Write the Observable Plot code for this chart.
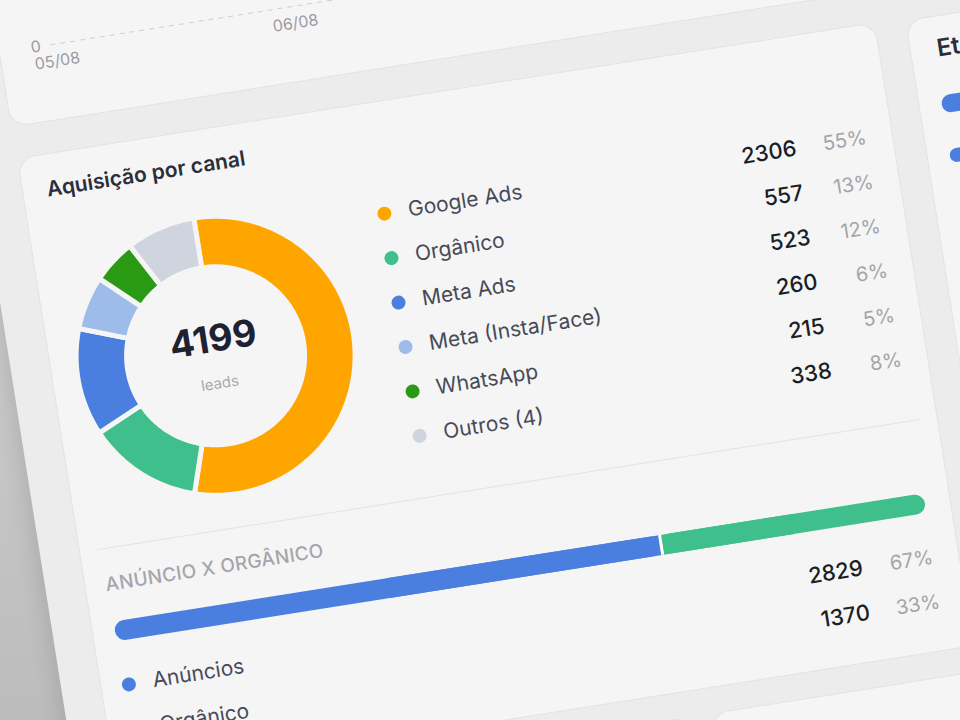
<!DOCTYPE html>
<html><head><meta charset="utf-8">
<script src="https://cdn.jsdelivr.net/npm/d3@7"></script>
<script src="https://cdn.jsdelivr.net/npm/@observablehq/plot@0.6"></script>
<style>
html,body{margin:0;padding:0;width:960px;height:720px;overflow:hidden;background:linear-gradient(to bottom,#dcdcdc 0%,#cbcbcb 45%,#bcbcbc 100%);font-family:Inter,"Noto Sans",sans-serif;}
#page{position:absolute;left:0;top:0;width:960px;height:720px;transform-origin:480px 360px;transform:rotate(-9deg);}
.bg{position:absolute;left:15px;top:-600px;width:1600px;height:1900px;background:#ececec;box-shadow:-6px 0 20px rgba(0,0,0,0.10);}
.card{position:absolute;background:#f5f5f5;border:1px solid #e3e3e3;border-radius:18px;box-sizing:border-box;}
.abs{position:absolute;}
.abs svg{overflow:visible;}
.title{font-size:21px;font-weight:600;color:#2b2e3b;line-height:24px;white-space:nowrap;}
.label{font-size:19px;font-weight:500;color:#a5a5ab;line-height:22px;letter-spacing:0.015em;white-space:nowrap;}
</style>
</head><body>
<div id="page">
  <div class="bg"></div>
  <div class="card" style="left:53px;top:-300px;width:870px;height:357px;"></div>
  <div class="card" style="left:54px;top:88px;width:869px;height:632px;"></div>
  <div class="card" style="left:953px;top:91px;width:420px;height:630px;"></div>
  <div class="card" style="left:54px;top:745px;width:578px;height:220px;"></div>
  <div class="card" style="left:652px;top:745px;width:420px;height:220px;"></div>
  <div id="topchart" class="abs" style="left:53px;top:-119px;"></div>
  <div class="abs title" style="left:79px;top:112px;">Aquisição por canal</div>
  <div id="donut" class="abs" style="left:69px;top:164px;"></div>
  <div id="legend" class="abs" style="left:398px;top:176px;"></div>
  <div class="abs" style="left:72px;top:487px;width:833px;height:1px;background:#e3e3e6;"></div>
  <div class="abs label" style="left:75px;top:513px;">ANÚNCIO X ORGÂNICO</div>
  <div id="bar" class="abs" style="left:67px;top:560px;"></div>
  <div id="legend2" class="abs" style="left:72px;top:603px;"></div>
  <div class="abs title" style="left:980px;top:112px;font-size:24px;">Etapas do funil</div>
  <div class="abs" style="left:976px;top:171px;width:70px;height:18px;border-radius:9px;background:#4a7fdf;"></div>
  <div class="abs" style="left:976px;top:225px;width:44px;height:14px;border-radius:7px;background:#4a7fdf;"></div>
</div>
<script>
// ---- data ----
const channels = ["Google Ads","Orgânico","Meta Ads","Meta (Insta/Face)","WhatsApp","Outros (4)"];
const leads = [2306,557,523,260,215,338];
const shareLabels = ["55%","13%","12%","6%","5%","8%"];
const channelColors = ["#ffa500","#3fbf8b","#4a7fdf","#9dbcea","#2a9a15","#cfd4de"];
const splitNames = ["Anúncios","Orgânico"];
const splitValues = [2829,1370];
const splitShares = ["67%","33%"];
const splitColors = ["#4a7fdf","#3fbf8b"];
const dayTicks = ["05/08","06/08"];
const centerCaption = "leads";

const FONT = "Inter, 'Noto Sans', sans-serif";
const CARD = "#f5f5f5";

// ---- top (partially visible) chart ----
document.getElementById("topchart").append(Plot.plot({
  width: 870, height: 130,
  marginLeft: 52, marginRight: 20, marginTop: 10, marginBottom: 30,
  style: {fontFamily: FONT, fontSize: "16px", color: "#9b9ba1", background: "transparent", overflow: "visible"},
  x: {type: "point", domain: dayTicks, range: [56, 297], padding: 0, tickSize: 0, tickPadding: 11, label: null},
  y: {domain: [0, 100], ticks: [0], tickSize: 0, tickPadding: 10, label: null},
  marks: [
    Plot.ruleY([0], {stroke: "#cdcdd2", strokeDasharray: "5,5"})
  ]
}));

// ---- donut ----
const rows = channels.map((name, i) => ({name, value: leads[i], share: shareLabels[i]}));
const total = d3.sum(leads);
const arcs = d3.pie().sort(null).value(d => d.value)(rows);
const R0 = 89, R1 = 139.5;
const ring = [];
arcs.forEach(a => {
  const n = Math.max(6, Math.ceil((a.endAngle - a.startAngle) / 0.02));
  const pts = [];
  for (let k = 0; k <= n; k++) pts.push([a.startAngle + (a.endAngle - a.startAngle) * k / n, R1]);
  for (let k = n; k >= 0; k--) pts.push([a.startAngle + (a.endAngle - a.startAngle) * k / n, R0]);
  pts.push(pts[0]);
  pts.forEach(([t, r]) => ring.push({name: a.data.name, px: r * Math.sin(t), py: r * Math.cos(t)}));
});
document.getElementById("donut").append(Plot.plot({
  width: 300, height: 300, margin: 0,
  style: {fontFamily: FONT, background: "transparent", overflow: "visible"},
  x: {domain: [-150, 150], axis: null},
  y: {domain: [-150, 150], axis: null},
  color: {domain: channels, range: channelColors},
  marks: [
    Plot.line(ring, {x: "px", y: "py", z: "name", fill: "name", stroke: CARD, strokeWidth: 5, strokeLinejoin: "round"}),
    Plot.text([String(total)], {x: () => 0, y: () => 0, text: d => d, dy: -16, fontSize: 37, fontWeight: 700, fill: "#1f2130"}),
    Plot.text([centerCaption], {x: () => 0, y: () => 0, text: d => d, dy: 28, fontSize: 15, fill: "#a9a9b0"})
  ]
}));

// ---- legend lists ----
function legendPlot(data, domain, range, w, h, rowTop, rowStep, numX, pctX) {
  return Plot.plot({
    width: w, height: h, margin: 0,
    style: {fontFamily: FONT, background: "transparent", overflow: "visible"},
    x: {domain: [0, w], range: [0, w], axis: null},
    y: {type: "point", domain: data.map(d => d.name), range: [rowTop, rowTop + rowStep * (data.length - 1)], padding: 0, axis: null},
    color: {domain, range},
    marks: [
      Plot.dot(data, {x: () => 10, y: "name", fill: "name", r: 7}),
      Plot.text(data, {x: () => 34, y: "name", text: "name", textAnchor: "start", fontSize: 21, fill: "#474a57"}),
      Plot.text(data, {x: () => numX, y: "name", text: d => String(d.value), textAnchor: "end", fontSize: 22, fontWeight: 500, fill: "#1c1e27"}),
      Plot.text(data, {x: () => pctX, y: "name", text: "share", textAnchor: "end", fontSize: 20, fill: "#a4a4aa"})
    ]
  });
}
document.getElementById("legend").append(legendPlot(rows, channels, channelColors, 510, 275, 22, 45.8, 427, 498));

const split = splitNames.map((name, i) => ({name, value: splitValues[i], share: splitShares[i]}));
let acc = 0;
split.forEach(d => { d.x1 = acc; acc += d.value; d.x2 = acc; });
document.getElementById("legend2").append(legendPlot(split, splitNames, splitColors, 836, 90, 22, 45, 753, 824));

// ---- stacked bar ----
document.getElementById("bar").append(Plot.plot({
  width: 840, height: 22, marginTop: 1, marginBottom: 1, marginLeft: 10, marginRight: 10,
  style: {background: "transparent", overflow: "visible"},
  x: {domain: [0, acc], axis: null},
  color: {domain: splitNames, range: splitColors},
  marks: [
    Plot.barX(split, {x1: "x1", x2: "x2", fill: "name", rx: 10}),
    Plot.barX(split, {x1: (d, i) => i === 0 ? d.x1 + d.value * 0.5 : d.x1, x2: (d, i) => i === 0 ? d.x2 : d.x1 + d.value * 0.5, fill: "name"}),
    Plot.ruleX(split.slice(1), {x: "x1", stroke: "#ffffff", strokeWidth: 3})
  ]
}));
</script>
</body></html>
